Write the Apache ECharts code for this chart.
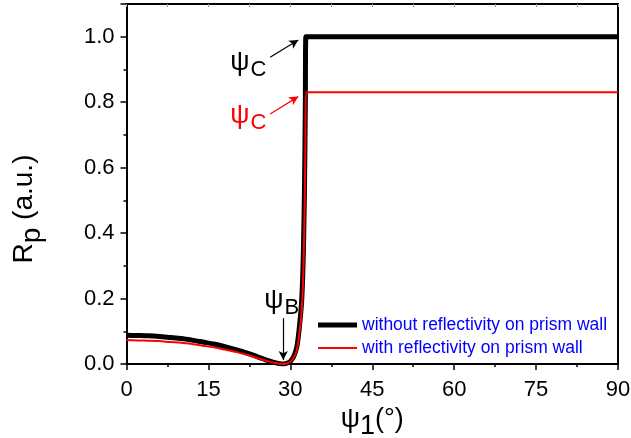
<!DOCTYPE html>
<html>
<head>
<meta charset="utf-8">
<script src="https://cdn.jsdelivr.net/npm/echarts@6/dist/echarts.min.js"></script>
<style>
  html, body { margin: 0; padding: 0; background: #fff; }
  #chart { width: 631px; height: 438px; }
</style>
</head>
<body>
<div id="chart"></div>
<script>
// Incidence angle ψ1 (degrees)
const angles = [0, 2, 4, 6, 8, 10, 12, 14, 16, 18, 20, 22, 24, 25, 26, 27, 28, 28.8,
  29.5, 30, 30.6, 31.2, 31.7, 32.1, 32.4, 32.6, 32.75, 32.85, 34, 45, 60, 75, 90];

// Rp without reflectivity on the prism wall
const rpWithout = [0.088, 0.087, 0.086, 0.084, 0.081, 0.078, 0.073, 0.067, 0.061, 0.053,
  0.044, 0.034, 0.022, 0.016, 0.010, 0.005, 0.0012, 0,
  0.003, 0.008, 0.022, 0.053, 0.12, 0.20, 0.35, 0.55, 0.80, 1.0, 1.0, 1.0, 1.0, 1.0, 1.0];

// Rp with reflectivity on the prism wall
const rpWith = [0.073, 0.072, 0.071, 0.070, 0.067, 0.065, 0.061, 0.056, 0.051, 0.044,
  0.037, 0.028, 0.018, 0.013, 0.008, 0.004, 0.001, 0,
  0.0025, 0.0066, 0.018, 0.044, 0.10, 0.166, 0.29, 0.457, 0.664, 0.83, 0.83, 0.83, 0.83, 0.83, 0.83];

const seriesNames = ['without reflectivity on prism wall', 'with reflectivity on prism wall'];
const xTicks = [0, 15, 30, 45, 60, 75, 90];
const yTicks = [0.0, 0.2, 0.4, 0.6, 0.8, 1.0];

// Annotation anchors (data coordinates)
const psiCLabel = [22.3, 0.921];
const psiCLabelRed = [22.3, 0.759];
const psiBLabel = [28.4, 0.194];
const arrowC = [[26.3, 0.937], [31.45, 0.990]];
const arrowCRed = [[26.3, 0.764], [31.45, 0.817]];
const arrowB = [[28.7, 0.14], [28.7, 0.012]];

const FONT = 'Liberation Sans, Arial, sans-serif';

function pairs(xs, ys) { return xs.map((x, i) => [x, ys[i]]); }

function psiRich(color) {
  return {
    g: { fontFamily: FONT, fontSize: 27, color: color },
    s: { fontFamily: FONT, fontSize: 22, color: color, padding: [14, 0, 0, 1] }
  };
}

const chart = echarts.init(document.getElementById('chart'), null, { renderer: 'canvas' });

chart.setOption({
  animation: false,
  backgroundColor: '#ffffff',
  grid: { left: 126.5, right: 13, top: 4, bottom: 74, containLabel: false, outerBoundsMode: 'none' },
  legend: [
    {
      data: [{ name: seriesNames[0], icon: 'rect' }],
      left: 318, top: 316, padding: 0,
      itemWidth: 39, itemHeight: 5,
      textStyle: { fontFamily: FONT, fontSize: 17.5, color: '#0000ff' },
      selectedMode: false
    },
    {
      data: [{ name: seriesNames[1], icon: 'rect' }],
      left: 318, top: 339, padding: 0,
      itemWidth: 39, itemHeight: 2,
      textStyle: { fontFamily: FONT, fontSize: 17.5, color: '#0000ff' },
      selectedMode: false
    }
  ],
  xAxis: [
    {
      type: 'value', position: 'bottom',
      min: xTicks[0], max: xTicks[xTicks.length - 1], interval: xTicks[1] - xTicks[0],
      name: '{g|ψ}{s|1}{g|(°)}',
      nameLocation: 'middle', nameGap: 35,
      nameTextStyle: {
        rich: {
          g: { fontFamily: FONT, fontSize: 27, color: '#000' },
          s: { fontFamily: FONT, fontSize: 27, color: '#000', padding: [14, 0, 0, 0] }
        }
      },
      axisLine: { show: true, onZero: false, lineStyle: { color: '#000', width: 2 } },
      axisTick: { show: true, inside: false, length: 6, lineStyle: { color: '#000', width: 1.5 } },
      minorTick: { show: true, splitNumber: 2, length: 3, lineStyle: { color: '#000', width: 1.5 } },
      axisLabel: { fontFamily: FONT, fontSize: 22, color: '#000', margin: 15 },
      splitLine: { show: false }
    },
    {
      type: 'value', position: 'top',
      min: 0, max: 90, interval: 7.5,
      axisLine: { show: true, onZero: false, lineStyle: { color: '#000', width: 2 } },
      axisTick: { show: true, inside: true, length: 3, lineStyle: { color: '#999', width: 1 } },
      axisLabel: { show: false },
      splitLine: { show: false }
    }
  ],
  yAxis: [
    {
      type: 'value', position: 'left',
      min: 0, max: 1.1, interval: yTicks[1] - yTicks[0],
      name: '{g|R}{s|p}{g| (a.u.)}',
      nameLocation: 'middle', nameGap: 80,
      nameRotate: 90,
      nameTextStyle: {
        padding: [0, 50, 0, 0],
        rich: {
          g: { fontFamily: FONT, fontSize: 28, color: '#000' },
          s: { fontFamily: FONT, fontSize: 28, color: '#000', padding: [16, 0, 0, 0] }
        }
      },
      axisLine: { show: true, onZero: false, lineStyle: { color: '#000', width: 2 } },
      axisTick: { show: true, inside: false, length: 6, lineStyle: { color: '#000', width: 1.5 } },
      minorTick: { show: true, splitNumber: 2, length: 3, lineStyle: { color: '#000', width: 1.5 } },
      axisLabel: {
        fontFamily: FONT, fontSize: 22, color: '#000', margin: 12,
        showMaxLabel: false,
        formatter: v => (Math.abs(v - 1.1) < 1e-9 ? '' : v.toFixed(1))
      },
      splitLine: { show: false }
    },
    {
      type: 'value', position: 'right',
      min: 0, max: 1.1,
      axisLine: { show: true, onZero: false, lineStyle: { color: '#000', width: 2 } },
      axisTick: { show: false },
      axisLabel: { show: false },
      splitLine: { show: false }
    }
  ],
  series: [
    {
      name: seriesNames[0],
      type: 'line',
      data: pairs(angles, rpWithout),
      showSymbol: false, symbol: 'none',
      smooth: 0.25,
      color: '#000',
      lineStyle: { color: '#000', width: 5 },
      z: 2,
      markLine: {
        silent: true, animation: false,
        symbol: ['none', 'arrow'], symbolSize: [7, 9],
        label: { show: false },
        lineStyle: { color: '#000', width: 1.2, type: 'solid' },
        emphasis: { disabled: true },
        data: [
          [{ coord: arrowC[0] }, { coord: arrowC[1] }],
          [{ coord: arrowB[0] }, { coord: arrowB[1] }]
        ]
      },
      markPoint: {
        silent: true, animation: false,
        symbol: 'circle', symbolSize: 0,
        data: [
          {
            coord: psiCLabel,
            label: { show: true, position: 'inside', formatter: '{g|ψ}{s|C}', rich: psiRich('#000') }
          },
          {
            coord: psiBLabel,
            label: { show: true, position: 'inside', formatter: '{g|ψ}{s|B}', rich: psiRich('#000') }
          }
        ]
      }
    },
    {
      name: seriesNames[1],
      type: 'line',
      data: pairs(angles, rpWith),
      showSymbol: false, symbol: 'none',
      smooth: 0.25,
      color: '#ff0000',
      lineStyle: { color: '#ff0000', width: 2 },
      z: 3,
      markLine: {
        silent: true, animation: false,
        symbol: ['none', 'arrow'], symbolSize: [7, 9],
        label: { show: false },
        lineStyle: { color: '#ff0000', width: 1.2, type: 'solid' },
        emphasis: { disabled: true },
        data: [
          [{ coord: arrowCRed[0] }, { coord: arrowCRed[1] }]
        ]
      },
      markPoint: {
        silent: true, animation: false,
        symbol: 'circle', symbolSize: 0,
        data: [
          {
            coord: psiCLabelRed,
            label: { show: true, position: 'inside', formatter: '{g|ψ}{s|C}', rich: psiRich('#ff0000') }
          }
        ]
      }
    }
  ]
});
</script>
</body>
</html>
